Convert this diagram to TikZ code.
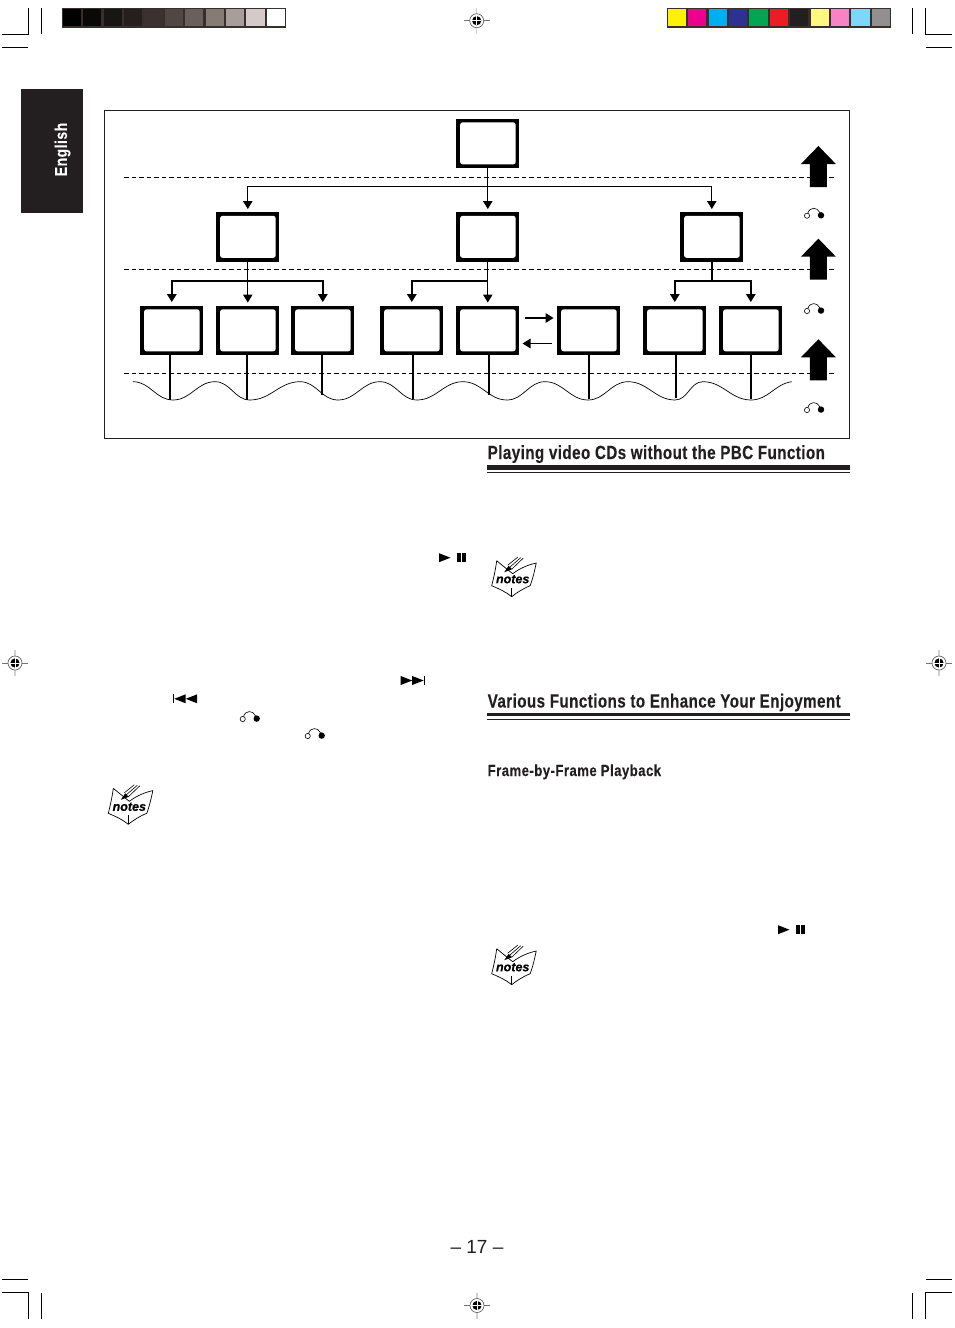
\documentclass[tikz,border=0pt]{standalone}
\usepackage{fontspec}
\setmainfont{Liberation Sans}
\newfontfamily\condfont[FakeStretch=0.8,LetterSpace=2.2,FakeBold=0.15]{Liberation Sans}
\newfontfamily\tabfont[FakeStretch=0.82,LetterSpace=3,FakeBold=0.15]{Liberation Sans}
\newfontfamily\notefont[FakeBold=0.4]{Liberation Sans}
\usetikzlibrary{arrows.meta}
\definecolor{inkdark}{HTML}{231F20}
\definecolor{stripdark}{HTML}{362F2D}

\begin{document}
\begin{tikzpicture}[x=1pt,y=-1pt,>={Triangle[length=8pt,width=9.4pt]},
                    node distance=76pt,
                    screen/.style={rectangle,fill=black,draw=none,inner sep=0pt,
                      minimum width=63pt,minimum height=49.5pt,
                      path picture={\fill[white,rounded corners=2.5pt]
                        ([xshift=3.8pt,yshift=-3.6pt]path picture bounding box.north west) rectangle
                        ([xshift=-3.6pt,yshift=3.9pt]path picture bounding box.south east);}},
                    thinlead/.style={line width=1.1pt,shorten >=3pt},
                    lead/.style={line width=1.8pt,shorten >=3.5pt},
                    stem/.style={line width=1.6pt},
                    level/.style={line width=.8pt,dash pattern=on 4.6pt off 2.9pt},
                    wave/.style={line width=.7pt,every to/.style={out=0,in=180}},
                    heading/.style={anchor=base west,inner sep=0pt,text=inkdark,
                      font=\condfont\bfseries\fontsize{19}{19}\selectfont},
                    crop/.style={line width=.9pt},
                    bigup/.pic={\fill (0,0) -- (17.5,18) -- (8.5,18) -- (8.5,41) -- (-8.5,41)
                      -- (-8.5,18) -- (-17.5,18) -- cycle;},
                    remote/.pic={\draw[line width=.6pt] (0,0) circle (2.6);
                      \fill (14,-.4) circle (3.2);
                      \draw[line width=.6pt] (.8,-2.5) .. controls (3,-9) and (10,-9) .. (13,-3);},
                    playpause/.pic={\fill (0,-4.5) -- (11.5,0) -- (0,4.5) -- cycle;
                      \fill (18.2,-4.3) rectangle (21.6,4.3);
                      \fill (23.2,-4.3) rectangle (26.8,4.3);},
                    nextskip/.pic={\fill (0,-4.5) -- (11.5,0) -- (0,4.5) -- cycle;
                      \fill (11.5,-4.5) -- (23,0) -- (11.5,4.5) -- cycle;
                      \fill (23.2,-4.5) rectangle (24.6,4.5);},
                    prevskip/.pic={\fill (0,-4.5) rectangle (1.4,4.5);
                      \fill (1.6,0) -- (13,-4.5) -- (13,4.5) -- cycle;
                      \fill (13,0) -- (24.5,-4.5) -- (24.5,4.5) -- cycle;},
                    notesbook/.pic={\draw[line width=.7pt,fill=white] (0,0) .. controls (6,5) and (11,9) .. (16,13)
                        .. controls (24,7) and (32,4) .. (39.5,2.3)
                        .. controls (38,10) and (36,18) .. (33.5,25)
                        .. controls (26,28) and (20,32) .. (15,36)
                        .. controls (9,31) and (2,28) .. (-5,25)
                        .. controls (-3,17) and (-1,8) .. (0,0);
                      \draw[line width=.5pt] (15,36) -- (15,27);
                      \fill (7.5,11.5) -- (12,5) -- (15.5,8.5) -- cycle;
                      \draw[line width=.6pt] (11,4.5) -- (21,-3.5) (13,6.5) -- (24,-3) (15,8.5) -- (26.5,-2.5);
                      \node[inner sep=0pt,font=\notefont\bfseries\itshape\fontsize{12.5}{12.5}\selectfont] (word) at (16,18.5) {notes};},
                    target/.pic={\draw[black!18,line width=1.4pt] (0,-13) -- (0,13);
                      \draw[black!55,line width=.7pt] (-13,0) -- (13,0);
                      \draw[black!60,line width=.7pt,fill=white] (0,0) circle (7);
                      \fill (0,0) circle (4.6);
                      \draw[white,line width=.8pt] (-4.6,0) -- (4.6,0) (0,-4.6) -- (0,4.6);}]

  \path[use as bounding box,fill=white] (0,0) rectangle (954,1328);

  % test strips
  \fill[stripdark] (62,8) rectangle (286,28);
  \foreach \c [count=\i from 0] in {000000,0A0908,181513,25201D,3A3130,504744,695F5C,877B76,A79E9B,D3CBC9,FFFFFF} {
    \definecolor{cellcolor}{HTML}{\c}
    \fill[cellcolor] ({62.7+\i*20.4},8.7) rectangle ({80.9+\i*20.4},26);
  }
  \fill[stripdark] (667,8) rectangle (891,28);
  \foreach \c [count=\i from 0] in {FFF200,EC008C,00AEEF,2E3192,00A651,ED1C24,231F20,FFF77F,F782C4,7FD6F9,918F90} {
    \definecolor{cellcolor}{HTML}{\c}
    \fill[cellcolor] ({667.7+\i*20.4},8.7) rectangle ({685.9+\i*20.4},26);
  }

  % crop marks
  \draw[crop] (2,34.3) -- (28.3,34.3) -- (28.3,8) (41.7,8) -- (41.7,34) (2,47.3) -- (28.3,47.3);
  \draw[crop] (912.3,8) -- (912.3,34) (925.3,8) -- (925.3,34.3) -- (952,34.3) (926,47.3) -- (952,47.3);
  \draw[crop] (2,1279.3) -- (28.3,1279.3) (2,1292.3) -- (28.3,1292.3) -- (28.3,1319) (41.7,1293) -- (41.7,1319);
  \draw[crop] (912.3,1293) -- (912.3,1319) (925.3,1319) -- (925.3,1292.3) -- (952,1292.3) (926,1279.3) -- (952,1279.3);
  \foreach \p in {(476.7,20.7),(15,663),(939,663),(477,1305.5)}
    \pic at \p {target};

  % side tab
  \fill[inkdark] (21,89) rectangle (83,213);
  \node[rotate=90,text=white,inner sep=0pt,font=\tabfont\bfseries\fontsize{17}{17}\selectfont] (tab) at (62.5,149.5) {English};

  \draw[inkdark,line width=1pt] (104,110) rectangle (849.5,438.3);
  \draw[level] (124,177.3) -- (834,177.3);
  \draw[level] (124,269.4) -- (834,269.4);
  \draw[level] (124,373.3) -- (834,373.3);

  \node[screen]         (A) at (487.8,143.5) {};
  \node[screen]         (C) [below of=A,node distance=93.5pt] {};
  \node[screen]         (B) [left of=C,node distance=240pt] {};
  \node[screen]         (D) [right of=C,node distance=224pt] {};
  \node[screen]         (I) [below of=C,node distance=93.5pt] {};
  \node[screen]         (H) [left of=I] {};
  \node[screen]         (G) [left of=H,node distance=89pt] {};
  \node[screen]         (F) [left of=G,node distance=75pt] {};
  \node[screen]         (E) [left of=F] {};
  \node[screen]         (J) [right of=I,node distance=101pt] {};
  \node[screen]         (K) [right of=J,node distance=86pt] {};
  \node[screen]         (L) [right of=K] {};

  \coordinate (busA) at (487.8,186.3);
  \coordinate (busB) at (247.8,280.7);
  \coordinate (busC) at (487.8,280.7);
  \coordinate (busD) at (711.8,280.7);

  \path (A) edge[->,thinlead] (C);
  \draw[->,thinlead] (busA) -| (B.north);
  \draw[->,thinlead] (busA) -| (D.north);

  \draw[thinlead,shorten >=0pt] (B.south) -- (busB);
  \draw[->,lead] (busB) -| (E.north);
  \draw[->,thinlead] (busB) -- (F.north);
  \draw[->,lead] (busB) -| (G.north);

  \path (C) edge[->,thinlead] (I);
  \draw[->,lead] (busC) -| (H.north);

  \draw[stem] (D.south) -- (busD);
  \draw[->,lead] (busD) -| (K.north);
  \draw[->,lead] (busD) -| (L.north);

  \draw[->,lead,shorten <=5pt] ([yshift=12.5pt]I.east) -- ([yshift=12.5pt]J.west);
  \draw[->,lead,shorten <=5pt,shorten >=3pt] ([yshift=-13pt]J.west) -- ([yshift=-13pt]I.east);

  \draw[wave] (133,381.7) to (173,400) to (215,381.7) to (250,400) to (300,381.7) to (338,400)
    to (380,381.7) to (417,400) to (463,381.7) to (507,400) to (545,381.7) to (588,400)
    to (628,381.7) to (675,400) to (703,381.7) to (751,400) to[in=188] (791.7,381.7);

  \foreach \n/\x/\y in {E/170/400,F/246.7/399.5,G/322/395,H/413/399,I/488.7/395,J/589/399,K/675.7/398,L/750.7/399} {
    \coordinate (end\n) at (\x,\y);
    \draw[stem] (\n.south -| end\n) -- (end\n);
  }

  \foreach \y in {146,238.7,339.3}
    \pic at (818.4,\y) {bigup};
  \foreach \p in {(807,215.7),(807,311),(807,410),(242.7,719),(307.7,736)}
    \pic at \p {remote};

  \node[heading] (headA) at (487.5,459) {Playing video CDs without the PBC Function};
  \node[heading] (headB) at (487.5,707.5) {Various Functions to Enhance Your Enjoyment};
  \node[heading,font=\tabfont\bfseries\fontsize{16}{16}\selectfont] (headC) at (487.5,776) {Frame-by-Frame Playback};
  \foreach \y/\w in {467.3/4.6,714.5/3.4}
    \draw[line width=\w pt,inkdark] (487,\y) -- (850,\y);
  \foreach \y in {472.4,719.3}
    \draw[line width=.9pt,inkdark] (487,\y) -- (850,\y);

  \pic at (439,557.7) {playpause};
  \pic at (778,929.7) {playpause};
  \pic at (400.7,680.5) {nextskip};
  \pic at (172.7,698.8) {prevskip};
  \foreach \p in {(113.3,788.3),(496.7,560.7),(496.7,948.7)}
    \pic at \p {notesbook};

  \node[inner sep=0pt,text=inkdark,font=\fontsize{19}{19}\selectfont] (page) at (477,1247) {– 17 –};

\end{tikzpicture}
\end{document}
